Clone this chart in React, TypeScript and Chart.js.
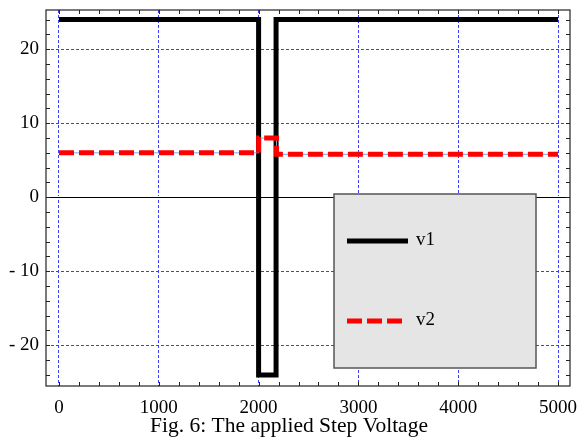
import { useEffect, useRef } from 'react';
import { Chart, registerables } from 'chart.js';

Chart.register(...registerables);

// ---- data ----
const xTickValues = [0, 1000, 2000, 3000, 4000, 5000];
const yTickValues = [-20, -10, 0, 10, 20];
const v1X = [0, 2000, 2175, 5000];
const v1Y = [24, -24, 24, 24];
const v2X = [0, 2000, 2180, 5000];
const v2Y = [6, 8, 5.8, 5.8];
const seriesLabels = ['v1', 'v2'];
const caption = 'Fig. 6: The applied Step Voltage';
const xRange = [-130, 5120];
const yRange = [-25.5, 25.3];
const xMinorStep = 200;
const yMinorStep = 2;

const SERIF = "'Liberation Serif', 'Times New Roman', serif";
const GRID_BLUE = '#3c3cff';

const toPoints = (xs: number[], ys: number[]) => xs.map((x, i) => ({ x, y: ys[i] }));

const zeroPad = (s: any) => {
  s.paddingTop = 0;
  s.paddingBottom = 0;
  s.paddingLeft = 0;
  s.paddingRight = 0;
};

const framePlugin = {
  id: 'framePlugin',
  beforeDraw(chart: any) {
    chart.ctx.letterSpacing = '0px';
  },
  beforeDatasetsDraw(chart: any) {
    const { ctx, chartArea: a, scales } = chart;
    const y0 = scales.y.getPixelForValue(0);
    ctx.save();
    ctx.strokeStyle = '#fff';
    ctx.lineWidth = 3;
    ctx.beginPath();
    ctx.moveTo(a.left, Math.round(y0) + 0.5);
    ctx.lineTo(a.right, Math.round(y0) + 0.5);
    ctx.stroke();
    ctx.strokeStyle = '#000';
    ctx.lineWidth = 1;
    ctx.beginPath();
    ctx.moveTo(a.left, Math.round(y0) + 0.5);
    ctx.lineTo(a.right, Math.round(y0) + 0.5);
    ctx.stroke();
    ctx.restore();
  },
  afterDatasetsDraw(chart: any) {
    const { ctx, chartArea: a, scales } = chart;
    const xs = scales.x;
    const ys = scales.y;
    ctx.save();
    // frame
    ctx.strokeStyle = '#222';
    ctx.lineWidth = 1.2;
    ctx.strokeRect(a.left, a.top, a.right - a.left, a.bottom - a.top);
    // minor ticks
    ctx.lineWidth = 1;
    ctx.strokeStyle = '#222';
    ctx.beginPath();
    for (let v = 0; v <= xRange[1]; v += xMinorStep) {
      const px = Math.round(xs.getPixelForValue(v)) + 0.5;
      if (px < a.left || px > a.right) continue;
      ctx.moveTo(px, a.bottom);
      ctx.lineTo(px, a.bottom - 4);
      ctx.moveTo(px, a.top);
      ctx.lineTo(px, a.top + 4);
    }
    for (let v = -24; v <= yRange[1]; v += yMinorStep) {
      const py = Math.round(ys.getPixelForValue(v)) + 0.5;
      if (py < a.top || py > a.bottom) continue;
      ctx.moveTo(a.left, py);
      ctx.lineTo(a.left + 4, py);
      ctx.moveTo(a.right, py);
      ctx.lineTo(a.right - 4, py);
    }
    ctx.stroke();

    // legend box
    const bx = a.left + 288;
    const by = a.top + 184;
    const bw = 202;
    const bh = 174;
    ctx.fillStyle = '#e5e5e5';
    ctx.fillRect(bx, by, bw, bh);
    ctx.strokeStyle = '#555';
    ctx.lineWidth = 1.5;
    ctx.strokeRect(bx, by, bw, bh);

    const rowY = [by + 47, by + 127];
    seriesLabels.forEach((lab, i) => {
      const d: any = chart.data.datasets.find((ds: any) => ds.label === lab);
      if (!d) return;
      const yy = rowY[i];
      ctx.beginPath();
      ctx.strokeStyle = d.borderColor;
      ctx.lineWidth = d.borderWidth;
      ctx.setLineDash(d.borderDash || []);
      ctx.lineCap = 'butt';
      ctx.moveTo(bx + 13, yy);
      ctx.lineTo(bx + (i === 0 ? 74 : 70), yy);
      ctx.stroke();
      ctx.setLineDash([]);
      ctx.fillStyle = '#000';
      ctx.font = `19px ${SERIF}`;
      ctx.textBaseline = 'middle';
      ctx.textAlign = 'left';
      ctx.fillText(d.label, bx + 82, yy - 1);
    });
    ctx.restore();
    // tick labels (scale layer z > 0) are drawn next, slightly condensed
    ctx.letterSpacing = '-1px';
  },
  afterDraw(chart: any) {
    chart.ctx.letterSpacing = '0px';
  },
};

export default function App() {
  const ref = useRef<HTMLCanvasElement | null>(null);
  useEffect(() => {
    if (!ref.current) return;
    const chart = new Chart(ref.current, {
      type: 'line',
      data: {
        datasets: [
          {
            label: seriesLabels[1],
            data: toPoints(v2X, v2Y),
            borderColor: '#ff0000',
            borderWidth: 5,
            borderDash: [15, 5],
            borderCapStyle: 'butt',
            stepped: true,
            pointRadius: 0,
            fill: false,
            order: 1,
          },
          {
            label: 'v2-edge',
            data: toPoints(v2X, v2Y),
            borderColor: '#7fa6e8',
            borderWidth: 1,
            stepped: true,
            pointRadius: 0,
            fill: false,
            order: 2,
          },
          {
            label: seriesLabels[0],
            data: toPoints(v1X, v1Y),
            borderColor: '#000000',
            borderWidth: 5,
            borderJoinStyle: 'miter',
            borderCapStyle: 'butt',
            stepped: true,
            pointRadius: 0,
            fill: false,
            order: 3,
          },
        ],
      },
      options: {
        responsive: false,
        animation: false,
        layout: { padding: { top: 10, right: 7, left: 8, bottom: 0 } },
        plugins: {
          legend: { display: false },
          tooltip: { enabled: false },
          title: {
            display: true,
            text: caption,
            position: 'bottom',
            color: '#000',
            font: { family: SERIF, size: 21.5, weight: 'normal', lineHeight: 1.2 },
            padding: { top: 0, bottom: 2.5 },
          },
        },
        scales: {
          x: {
            type: 'linear',
            min: xRange[0],
            max: xRange[1],
            z: 1,
            afterBuildTicks: (s: any) => {
              s.ticks = xTickValues.map((v) => ({ value: v }));
            },
            afterFit: (s: any) => {
              s.height = 27.7;
              zeroPad(s);
            },
            ticks: {
              color: '#000',
              font: { family: SERIF, size: 19 },
              padding: 11,
              maxRotation: 0,
              autoSkip: false,
              callback: (v: any) => String(v),
            },
            grid: { color: GRID_BLUE, lineWidth: 1, drawTicks: false, z: -1 },
            border: { display: false, dash: [3, 2] },
          },
          y: {
            type: 'linear',
            min: yRange[0],
            max: yRange[1],
            z: 1,
            afterBuildTicks: (s: any) => {
              s.ticks = yTickValues.map((v) => ({ value: v }));
            },
            afterFit: (s: any) => {
              s.width = 38;
              zeroPad(s);
            },
            ticks: {
              color: '#000',
              font: { family: SERIF, size: 19 },
              padding: 7,
              autoSkip: false,
              callback: (v: any) => (v < 0 ? '- ' + Math.abs(v) : String(v)),
            },
            grid: { color: GRID_BLUE, lineWidth: 1, drawTicks: false, z: -1 },
            border: { display: false, dash: [3, 2] },
          },
        },
      },
      plugins: [framePlugin],
    } as any);
    return () => chart.destroy();
  }, []);
  return (
    <div style={{ position: 'absolute', left: 0, top: 0, width: 577, height: 442, background: '#fff' }}>
      <canvas ref={ref} width={577} height={442} style={{ display: 'block' }} />
    </div>
  );
}
